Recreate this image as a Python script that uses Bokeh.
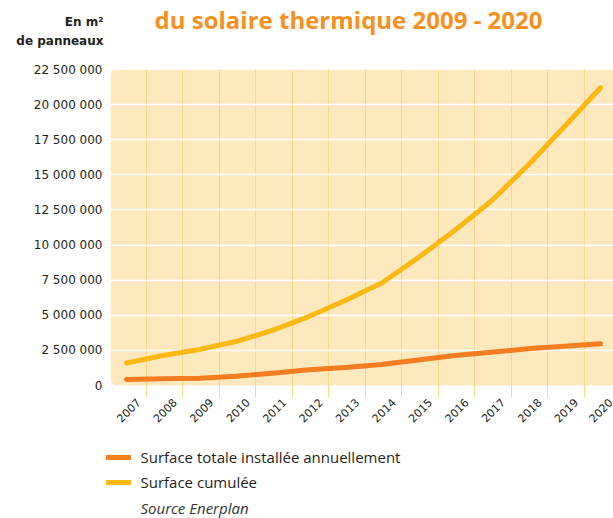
from bokeh.plotting import figure
from bokeh.models import (Range1d, LinearAxis, FixedTicker, Label, Legend,
                          LegendItem, ColumnDataSource, Grid, BoxAnnotation)
from bokeh.layouts import column
from bokeh.embed import file_html
from bokeh.resources import INLINE

# ---- data ----
years = [2007, 2008, 2009, 2010, 2011, 2012, 2013, 2014, 2015, 2016, 2017, 2018, 2019, 2020]
year_labels = [str(y) for y in years]
annual = [430000, 480000, 520000, 660000, 880000, 1120000, 1280000, 1500000,
          1820000, 2140000, 2370000, 2610000, 2800000, 2970000]
cumul = [1600000, 2140000, 2560000, 3130000, 3920000, 4910000, 6050000, 7300000,
         9100000, 11040000, 13120000, 15650000, 18400000, 21200000]
y_ticks = [0, 2500000, 5000000, 7500000, 10000000, 12500000, 15000000,
           17500000, 20000000, 22500000]
y_tick_labels = ["0", "2 500 000", "5 000 000", "7 500 000", "10 000 000",
                 "12 500 000", "15 000 000", "17 500 000", "20 000 000", "22 500 000"]
series_names = ["Surface totale installée annuellement", "Surface cumulée"]
title_text = "du solaire thermique 2009 - 2020"
unit_lines = ["En m²", "de panneaux"]
source_text = "Source Enerplan"

# ---- styles ----
ORANGE = "#F47D20"
YELLOW = "#FDB913"
TITLE_ORANGE = "#F7901E"
BG = "#FEE9BF"
VGRID = "#FCD68A"
TXT = "#231F20"
FONT = "Open Sans"
NUMFONT = "DejaVu Sans"
W = 613


def blank_fig(h):
    f = figure(width=W, height=h, output_backend="svg", toolbar_location=None,
               x_range=Range1d(0, 1), y_range=Range1d(0, 1),
               x_axis_location=None, y_axis_location=None,
               min_border_left=0, min_border_right=0, min_border_top=0,
               min_border_bottom=0, frame_align=False)
    f.xgrid.visible = False
    f.ygrid.visible = False
    f.outline_line_color = None
    f.background_fill_color = "white"
    f.border_fill_color = "white"
    return f


# ---- top: title and unit ----
top = blank_fig(61)
top.add_layout(Label(x=348, y=42, x_units="screen", y_units="screen", text=title_text,
                     text_align="center", text_baseline="alphabetic", text_font=FONT,
                     text_font_size="24px", text_font_style="bold", text_color=TITLE_ORANGE))
top.add_layout(Label(x=103, y=40, x_units="screen", y_units="screen", text=unit_lines[0],
                     text_align="right", text_baseline="alphabetic", text_font=NUMFONT,
                     text_font_size="12px", text_font_style="bold", text_color=TXT))
top.add_layout(Label(x=103, y=20.5, x_units="screen", y_units="screen", text=unit_lines[1],
                     text_align="right", text_baseline="alphabetic", text_font=NUMFONT,
                     text_font_size="12px", text_font_style="bold", text_color=TXT))

# ---- main chart ----
p = figure(width=W, height=376, output_backend="svg", toolbar_location=None,
           x_range=Range1d(2006.561, 2020.357), y_range=Range1d(-854000, 22500000),
           x_axis_location=None, y_axis_location=None,
           min_border_left=110, min_border_right=0, min_border_top=8,
           min_border_bottom=40, frame_align=False)
p.background_fill_color = "white"
p.border_fill_color = "white"
p.outline_line_color = None
p.xgrid.visible = False
p.ygrid.visible = False

p.add_layout(BoxAnnotation(bottom=0, fill_color=BG, fill_alpha=1, line_color=None,
                           level="image", border_radius=(6, 0, 0, 6)))

grid_x = [y + 0.549 for y in years[:-1]]
p.add_layout(Grid(dimension=0, ticker=FixedTicker(ticks=grid_x), grid_line_color=VGRID,
                  grid_line_width=1))
p.add_layout(Grid(dimension=1, ticker=FixedTicker(ticks=y_ticks[1:-1]),
                  grid_line_color="white", grid_line_width=1.6))

src = ColumnDataSource(dict(x=years, annual=annual, cumul=cumul))
p.line(x="x", y="annual", source=src, line_color=ORANGE, line_width=5,
       line_cap="round", line_join="round")
p.line(x="x", y="cumul", source=src, line_color=YELLOW, line_width=5,
       line_cap="round", line_join="round")

ya = LinearAxis(ticker=FixedTicker(ticks=y_ticks),
                major_label_overrides={t: l for t, l in zip(y_ticks, y_tick_labels)},
                axis_line_color=None, major_tick_line_color=None, minor_tick_line_color=None,
                major_tick_in=0, major_tick_out=0,
                major_label_standoff=8, major_label_text_font=NUMFONT,
                major_label_text_font_size="12px", major_label_text_color=TXT)
p.add_layout(ya, "left")

lab_x = [y + 0.33 for y in years]
xa = LinearAxis(ticker=FixedTicker(ticks=lab_x),
                major_label_overrides={t: l for t, l in zip(lab_x, year_labels)},
                axis_line_color=None, major_tick_line_color=None,
                minor_tick_line_color=None, major_tick_in=0, major_tick_out=0,
                major_label_orientation=0.785398,
                major_label_standoff=3, major_label_text_font=NUMFONT,
                major_label_text_font_size="11px", major_label_text_color=TXT)
p.add_layout(xa, "below")

# ---- bottom: legend and source ----
# legend proxies: the series drawn in a range where they stay out of view
bot = blank_fig(81)
k1 = bot.line(x=years, y=annual, line_color=ORANGE, line_width=5, line_cap="round")
k2 = bot.line(x=years, y=cumul, line_color=YELLOW, line_width=5, line_cap="round")
bot.add_layout(Legend(items=[LegendItem(label=series_names[0], renderers=[k1]),
                             LegendItem(label=series_names[1], renderers=[k2])],
                      location=(105.5, 26), orientation="vertical", glyph_width=25,
                      glyph_height=20, label_height=20, spacing=5, padding=0, margin=0,
                      label_standoff=10, border_line_color=None, background_fill_alpha=0,
                      label_text_font=FONT, label_text_font_size="15px",
                      label_text_color=TXT))
bot.add_layout(Label(x=140, y=11, x_units="screen", y_units="screen", text=source_text,
                     text_align="left", text_baseline="middle", text_font=FONT,
                     text_font_size="15px", text_font_style="italic", text_color="#333333"))

layout = column(top, p, bot, spacing=0)
open("out.html", "w").write(file_html(layout, INLINE))
